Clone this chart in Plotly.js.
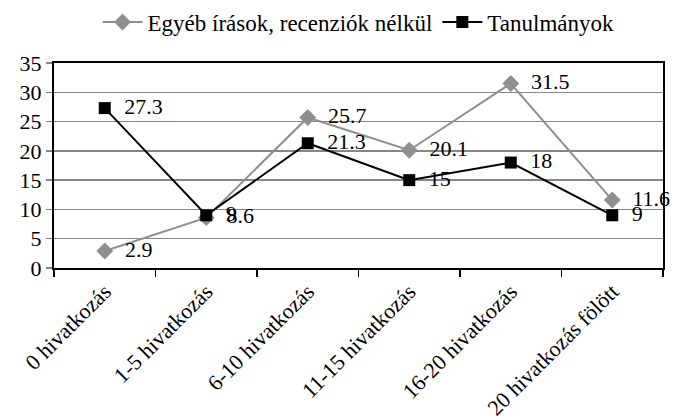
<!DOCTYPE html>
<html>
<head>
<meta charset="utf-8">
<script src="https://cdn.plot.ly/plotly-3.0.1.min.js"></script>
<style>html,body{margin:0;padding:0;background:#fff;}#chart{width:675px;height:419px;}</style>
</head>
<body>
<div id="chart"></div>
<script>
const categories = ["0 hivatkozás", "1-5 hivatkozás", "6-10 hivatkozás", "11-15 hivatkozás", "16-20 hivatkozás", "20 hivatkozás fölött"];
const egyebValues = [2.9, 8.6, 25.7, 20.1, 31.5, 11.6];
const tanulmanyValues = [27.3, 9, 21.3, 15, 18, 9];
const seriesNames = ["Egyéb írások, recenziók nélkül", "Tanulmányok"];

const font = "Liberation Serif, Times New Roman, serif";
const pad = "\u00a0\u00a0";

const traces = [
  {
    x: categories, y: egyebValues, name: seriesNames[0],
    type: "scatter", mode: "lines+markers+text",
    line: {color: "#8f8f8f", width: 2},
    marker: {symbol: "diamond", size: 13, color: "#8f8f8f"},
    text: egyebValues.map(v => pad + v), textposition: "middle right",
    textfont: {family: font, size: 22, color: "#000"},
    cliponaxis: false
  },
  {
    x: categories, y: tanulmanyValues, name: seriesNames[1],
    type: "scatter", mode: "lines+markers+text",
    line: {color: "#000", width: 2},
    marker: {symbol: "square", size: 12, color: "#000"},
    text: tanulmanyValues.map(v => pad + v), textposition: "middle right",
    textfont: {family: font, size: 22, color: "#000"},
    cliponaxis: false
  }
];

const layout = {
  width: 675, height: 419,
  margin: {l: 54, r: 12, t: 63, b: 151},
  paper_bgcolor: "#fff", plot_bgcolor: "#fff",
  font: {family: font, size: 22, color: "#000"},
  showlegend: true,
  legend: {orientation: "h", x: 0.5, xanchor: "center", xref: "paper",
           y: 1 - 22 / 419, yanchor: "middle", yref: "container",
           font: {family: font, size: 23, color: "#000"}, itemwidth: 40, tracegroupgap: 0},
  xaxis: {
    type: "category", range: [-0.5, 5.5], tickangle: -45, tickson: "boundaries",
    ticks: "outside", ticklen: 7, tickcolor: "#000", tickwidth: 1.5,
    showline: true, linecolor: "#000", linewidth: 2, mirror: true,
    showgrid: false, zeroline: false,
    tickfont: {family: font, size: 22, color: "#000"}
  },
  yaxis: {
    range: [0, 35], dtick: 5, ticks: "outside", ticklen: 6, tickcolor: "#868686", tickwidth: 1.5,
    showline: true, linecolor: "#000", linewidth: 2, mirror: true,
    showgrid: true, gridcolor: "#868686", gridwidth: 1.5, zeroline: false,
    tickfont: {family: font, size: 22, color: "#000"}
  }
};

Plotly.newPlot("chart", traces, layout, {displayModeBar: false, staticPlot: true});
</script>
</body>
</html>
